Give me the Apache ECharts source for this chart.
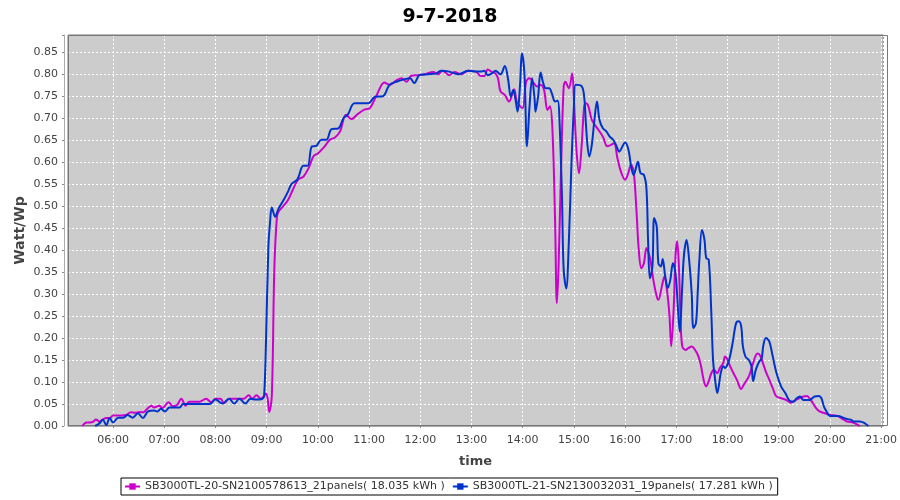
<!DOCTYPE html>
<html><head><meta charset="utf-8">
<script src="https://cdn.jsdelivr.net/npm/echarts@6/dist/echarts.min.js"></script>
<style>html,body{margin:0;padding:0;background:#fff}#c{width:900px;height:500px}</style>
</head><body><div id="c"></div>
<script>
const chartTitle = '9-7-2018';
const xAxisName = 'time';
const yAxisName = 'Watt/Wp';
const seriesNames = [
  'SB3000TL-20-SN2100578613_21panels( 18.035 kWh )',
  'SB3000TL-21-SN2130032031_19panels( 17.281 kWh )'
];
const seriesColors = ['#cc00cc', '#0033cc'];

const magentaTimes = ['05:24','05:29','05:33','05:37','05:40','05:44','05:48','05:52','05:56','06:00','06:05','06:10','06:15','06:21','06:26','06:31','06:35','06:39','06:45','06:48','06:54','06:58','07:05','07:10','07:15','07:20','07:25','07:29','07:35','07:41','07:49','07:55','08:00','08:06','08:10','08:16','08:22','08:28','08:33','08:39','08:43','08:48','08:53','08:57','08:59','09:01','09:03','09:06','09:09','09:12','09:14','09:19','09:25','09:31','09:37','09:43','09:49','09:55','10:00','10:08','10:14','10:20','10:26','10:33','10:39','10:47','10:55','11:01','11:09','11:18','11:24','11:32','11:38','11:44','11:49','11:57','12:05','12:15','12:21','12:26','12:34','12:40','12:48','12:56','13:05','13:11','13:15','13:19','13:24','13:28','13:31','13:34','13:39','13:44','13:50','13:53','13:57','14:00','14:04','14:08','14:13','14:17','14:21','14:25','14:29','14:32','14:35','14:38','14:40','14:42','14:45','14:48','14:50','14:54','14:58','15:00','15:03','15:06','15:09','15:12','15:14','15:17','15:21','15:26','15:34','15:39','15:43','15:47','15:51','15:55','16:00','16:03','16:07','16:10','16:13','16:16','16:19','16:22','16:25','16:28','16:30','16:33','16:37','16:39','16:43','16:46','16:49','16:52','16:54','16:57','16:59','17:01','17:03','17:05','17:07','17:11','17:14','17:18','17:22','17:26','17:29','17:32','17:35','17:38','17:41','17:44','17:48','17:51','17:55','17:57','18:00','18:03','18:07','18:11','18:16','18:19','18:25','18:30','18:35','18:38','18:41','18:45','18:49','18:53','18:57','19:03','19:09','19:14','19:19','19:24','19:29','19:33','19:36','19:40','19:44','19:48','19:54','20:00','20:08','20:14','20:20','20:27','20:33','20:35'];
const magentaValues = [0.000,0.008,0.008,0.010,0.015,0.010,0.015,0.018,0.018,0.024,0.024,0.024,0.025,0.031,0.030,0.032,0.031,0.037,0.046,0.042,0.046,0.041,0.054,0.045,0.048,0.062,0.046,0.055,0.055,0.055,0.062,0.054,0.062,0.062,0.052,0.062,0.062,0.062,0.062,0.070,0.062,0.070,0.062,0.068,0.074,0.064,0.032,0.068,0.360,0.475,0.488,0.499,0.514,0.539,0.561,0.567,0.586,0.614,0.620,0.636,0.651,0.656,0.670,0.708,0.698,0.710,0.720,0.723,0.753,0.781,0.776,0.786,0.791,0.783,0.796,0.798,0.800,0.805,0.800,0.808,0.798,0.805,0.800,0.808,0.806,0.796,0.796,0.811,0.805,0.802,0.791,0.761,0.753,0.738,0.766,0.738,0.727,0.723,0.783,0.791,0.780,0.772,0.776,0.764,0.719,0.727,0.666,0.461,0.279,0.363,0.590,0.772,0.783,0.768,0.802,0.742,0.628,0.575,0.636,0.727,0.734,0.727,0.696,0.681,0.658,0.636,0.639,0.643,0.609,0.579,0.560,0.571,0.594,0.579,0.500,0.400,0.359,0.370,0.405,0.390,0.374,0.333,0.295,0.287,0.317,0.340,0.310,0.250,0.181,0.272,0.386,0.420,0.363,0.242,0.181,0.173,0.177,0.181,0.173,0.158,0.136,0.105,0.090,0.102,0.120,0.128,0.120,0.132,0.143,0.158,0.151,0.136,0.120,0.105,0.084,0.094,0.113,0.143,0.165,0.161,0.146,0.123,0.105,0.086,0.068,0.063,0.059,0.053,0.058,0.063,0.067,0.068,0.063,0.052,0.040,0.033,0.029,0.025,0.023,0.017,0.010,0.008,0.002,0.000];

const blueTimes = ['05:39','05:44','05:48','05:52','05:56','06:00','06:06','06:12','06:17','06:23','06:29','06:35','06:41','06:48','06:52','06:56','07:01','07:06','07:12','07:18','07:22','07:30','07:40','07:48','07:53','08:00','08:08','08:16','08:22','08:28','08:35','08:41','08:48','08:55','08:57','08:59','09:02','09:04','09:06','09:10','09:14','09:19','09:25','09:29','09:36','09:43','09:48','09:53','09:58','10:04','10:10','10:16','10:24','10:30','10:35','10:43','10:59','11:07','11:16','11:24','11:32','11:42','11:48','11:53','11:59','12:09','12:19','12:24','12:34','12:44','12:56','13:07','13:11','13:15','13:19','13:24','13:28','13:34','13:39','13:43','13:46','13:49','13:51','13:54','13:57','13:59','14:02','14:05','14:08','14:11','14:14','14:15','14:18','14:21','14:24','14:27','14:31','14:34','14:38','14:41','14:43','14:46','14:48','14:51','14:54','14:57','15:00','15:02','15:09','15:12','15:14','15:16','15:18','15:21','15:24','15:27','15:30','15:34','15:38','15:42','15:46','15:50','15:53','16:00','16:04','16:07','16:10','16:15','16:18','16:22','16:25','16:27','16:29','16:32','16:34','16:37','16:39','16:42','16:44','16:47','16:50','16:53','16:56','16:59','17:02','17:04','17:07','17:09','17:12','17:15','17:18','17:20','17:23','17:25','17:27','17:30','17:33','17:35','17:38','17:41','17:43','17:45','17:48','17:50','17:52','17:55','17:57','17:59','18:02','18:06','18:10','18:13','18:16','18:18','18:21','18:25','18:28','18:30','18:33','18:37','18:40','18:42','18:45','18:49','18:53','18:57','19:03','19:08','19:12','19:17','19:21','19:25','19:29','19:36','19:42','19:47','19:50','19:53','19:56','20:00','20:05','20:10','20:14','20:18','20:22','20:25','20:28','20:35','20:41','20:45'];
const blueValues = [0.000,0.006,0.014,0.002,0.018,0.008,0.019,0.019,0.025,0.019,0.029,0.018,0.033,0.035,0.033,0.039,0.033,0.042,0.042,0.042,0.050,0.050,0.050,0.050,0.050,0.060,0.051,0.062,0.051,0.062,0.051,0.062,0.060,0.062,0.069,0.177,0.408,0.465,0.497,0.476,0.495,0.511,0.533,0.550,0.561,0.592,0.592,0.636,0.637,0.651,0.651,0.675,0.677,0.700,0.708,0.734,0.734,0.749,0.750,0.776,0.783,0.789,0.791,0.780,0.798,0.800,0.802,0.808,0.806,0.800,0.808,0.806,0.806,0.808,0.798,0.802,0.808,0.800,0.819,0.787,0.749,0.764,0.749,0.715,0.780,0.848,0.802,0.636,0.727,0.791,0.742,0.715,0.749,0.804,0.780,0.768,0.768,0.757,0.738,0.740,0.700,0.522,0.355,0.313,0.416,0.590,0.727,0.776,0.773,0.749,0.689,0.636,0.613,0.640,0.696,0.738,0.696,0.677,0.670,0.658,0.651,0.636,0.624,0.645,0.628,0.590,0.571,0.601,0.575,0.571,0.540,0.416,0.336,0.363,0.473,0.454,0.370,0.363,0.380,0.340,0.314,0.333,0.370,0.348,0.264,0.215,0.321,0.389,0.423,0.378,0.302,0.223,0.234,0.302,0.378,0.446,0.423,0.382,0.378,0.257,0.151,0.113,0.075,0.094,0.120,0.136,0.132,0.136,0.151,0.189,0.234,0.238,0.227,0.181,0.158,0.150,0.136,0.102,0.127,0.146,0.154,0.184,0.200,0.192,0.158,0.123,0.089,0.074,0.059,0.055,0.063,0.067,0.059,0.059,0.067,0.068,0.063,0.044,0.033,0.023,0.023,0.023,0.020,0.017,0.015,0.014,0.010,0.010,0.006,0.000];

const xStart = '05:07:12';
const xEnd = '21:02:24';
const yMax = 0.8893;
const yStep = 0.05;

function toTs(s) {
  const p = s.split(':').map(Number);
  return new Date(2018, 6, 9, p[0], p[1], p[2] || 0).getTime();
}
function pairs(times, vals) { return times.map((t, i) => [toTs(t), vals[i]]); }
function pad(n) { return (n < 10 ? '0' : '') + n; }

const W = 900, H = 500;
const G = { left: 68, top: 35, right: 12, bottom: 74 };
const font = 'DejaVu Sans';
const chart = echarts.init(document.getElementById('c'), null, { renderer: 'canvas' });

chart.setOption({
  animation: false,
  backgroundColor: '#ffffff',
  title: {
    text: chartTitle, left: 'center', top: 3,
    textStyle: { fontFamily: font, fontSize: 19, fontWeight: 'bold', color: '#000' }
  },
  grid: {
    left: G.left, top: G.top, right: G.right, bottom: G.bottom,
    show: true, backgroundColor: '#cccccc', borderColor: '#777777', borderWidth: 1
  },
  graphic: [{
    type: 'rect', z: 1, silent: true,
    shape: { x: G.left + 0.5, y: G.top + 0.5, width: W - G.left - G.right - 1, height: H - G.top - G.bottom - 1 },
    style: { fill: 'none', stroke: '#777777', lineWidth: 1 }
  }],
  legend: {
    left: 121, top: 478,
    data: seriesNames,
    borderColor: '#000', borderWidth: 1, borderRadius: 0,
    padding: [3, 5, 3, 3], itemGap: 7, itemWidth: 15, itemHeight: 8,
    textStyle: { fontFamily: font, fontSize: 11, color: '#333' }
  },
  xAxis: {
    type: 'time', min: toTs(xStart), max: toTs(xEnd),
    minInterval: 3600000, maxInterval: 3600000,
    offset: 4,
    name: xAxisName, nameLocation: 'middle', nameGap: 25, nameMoveOverlap: false,
    nameTextStyle: { fontFamily: font, fontSize: 13, fontWeight: 'bold', color: '#444' },
    axisLine: { show: true, lineStyle: { color: '#aaaaaa', width: 1 } },
    axisTick: { show: true, length: 2, lineStyle: { color: '#888' } },
    axisLabel: {
      fontFamily: font, fontSize: 11, color: '#444', margin: 5, hideOverlap: false,
      formatter: function (v) {
        const d = new Date(v);
        if (d.getMinutes() !== 0 || d.getSeconds() !== 0) return '';
        return pad(d.getHours()) + ':' + pad(d.getMinutes());
      }
    },
    splitLine: { show: true, lineStyle: { color: '#ffffff', type: [2, 2], width: 1 } }
  },
  yAxis: {
    type: 'value', min: 0, max: yMax, interval: yStep,
    offset: 4,
    name: yAxisName, nameLocation: 'middle', nameGap: 37, nameRotate: 90, nameMoveOverlap: false,
    nameTextStyle: { fontFamily: font, fontSize: 14, fontWeight: 'bold', color: '#444' },
    axisLine: { show: true, lineStyle: { color: '#aaaaaa', width: 1 } },
    axisTick: { show: true, length: 2, lineStyle: { color: '#888' } },
    axisLabel: {
      fontFamily: font, fontSize: 11, color: '#444', margin: 6,
      formatter: function (v) {
        const k = Math.round(v / yStep);
        if (Math.abs(v - k * yStep) > 1e-6) return '';
        return v.toFixed(2);
      }
    },
    splitLine: { show: true, lineStyle: { color: '#ffffff', type: [2, 2], width: 1 } }
  },
  series: [
    {
      name: seriesNames[0], type: 'line', data: pairs(magentaTimes, magentaValues),
      smooth: 0.35, showSymbol: false, symbol: 'rect', symbolSize: 3, z: 3,
      lineStyle: { color: seriesColors[0], width: 2 }, itemStyle: { color: seriesColors[0] }
    },
    {
      name: seriesNames[1], type: 'line', data: pairs(blueTimes, blueValues),
      smooth: 0.35, showSymbol: false, symbol: 'rect', symbolSize: 3, z: 3,
      lineStyle: { color: seriesColors[1], width: 2 }, itemStyle: { color: seriesColors[1] }
    }
  ]
});
</script>
</body></html>
